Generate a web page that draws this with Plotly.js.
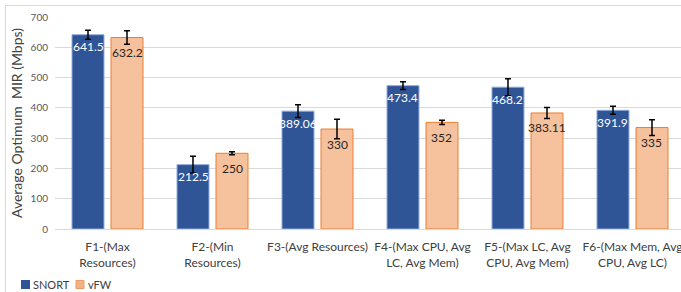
<!DOCTYPE html>
<html><head><meta charset="utf-8">
<script src="https://cdn.plot.ly/plotly-3.0.1.min.js"></script>
<style>
html,body{margin:0;padding:0;background:#fff;overflow:hidden;}
#frame{position:absolute;left:5px;top:5px;width:700px;height:300px;border-left:1px solid #d9d9d9;border-top:1px solid #d9d9d9;pointer-events:none;z-index:5;}
#chart{width:681px;height:292px;}
</style></head>
<body>
<div id="frame"></div>
<div id="chart"></div>
<script>
const categories = ["F1-(Max<br>Resources)", "F2-(Min<br>Resources)", "F3-(Avg Resources)", "F4-(Max CPU, Avg<br>LC, Avg Mem)", "F5-(Max LC, Avg<br>CPU, Avg Mem)", "F6-(Max Mem, Avg<br>CPU, Avg LC)"];
const seriesNames = ["SNORT", "vFW"];
const snortValues = [641.5, 212.5, 389.06, 473.4, 468.2, 391.9];
const snortLabels = ["641.5", "212.5", "389.06", "473.4", "468.2", "391.9"];
const snortErrors = [15, 28, 21, 13, 28, 13];
const vfwValues = [632.2, 250, 330, 352, 383.11, 335];
const vfwLabels = ["632.2", "250", "330", "352", "383.11", "335"];
const vfwErrors = [22, 5, 32, 7, 18, 26];

const font = "Lato, 'Open Sans', sans-serif";
const snortColor = "#2F5597", vfwColor = "#F8CBAD", vfwEdge = "#ED7D31";

const traces = [
  {
    type: "bar", name: seriesNames[0], x: categories, y: snortValues,
    marker: {color: snortColor, line: {color: "#8FAADC", width: 1}},
    error_y: {type: "data", array: snortErrors, visible: true, color: "#000000", thickness: 1.5, width: 3},
    hoverinfo: "none", showlegend: false
  },
  {
    type: "bar", name: seriesNames[1], x: categories, y: vfwValues,
    marker: {color: vfwColor, line: {color: vfwEdge, width: 1},
             pattern: {shape: ".", fgcolor: "#F4B183", bgcolor: vfwColor, size: 2, solidity: 0.4}},
    error_y: {type: "data", array: vfwErrors, visible: true, color: "#000000", thickness: 1.5, width: 3},
    hoverinfo: "none", showlegend: false
  }
];

// custom legend (paper coords: x0 at 55px, width 626px; y0 at 229px, height 212px)
const px = v => (v - 55) / 626;
const py = v => (229 - v) / 212;
const shapes = [
  {type: "rect", xref: "paper", yref: "paper", x0: px(21), x1: px(30), y0: py(289), y1: py(280),
   fillcolor: snortColor, line: {width: 0}},
  {type: "rect", xref: "paper", yref: "paper", x0: px(76), x1: px(84), y0: py(288.5), y1: py(280.5),
   fillcolor: "#F4B183", line: {color: "#EE9A62", width: 1}}
];
const annotations = [
  {xref: "paper", yref: "paper", x: px(31), y: py(284.5), xanchor: "left", yanchor: "middle",
   text: seriesNames[0], showarrow: false, font: {family: font, size: 11, color: "#404040"}},
  {xref: "paper", yref: "paper", x: px(86), y: py(284.5), xanchor: "left", yanchor: "middle",
   text: seriesNames[1], showarrow: false, font: {family: font, size: 11, color: "#404040"}}
];
// data labels inside the top of each bar
categories.forEach((c, i) => {
  annotations.push({x: c, y: snortValues[i], xref: "x", yref: "y", text: snortLabels[i], showarrow: false,
    xshift: -19.5, yshift: -12, yanchor: "middle", xanchor: "center",
    font: {family: font, size: 12, color: "#ffffff"}});
  annotations.push({x: c, y: vfwValues[i], xref: "x", yref: "y", text: vfwLabels[i], showarrow: false,
    xshift: 19.5, yshift: -15, yanchor: "middle", xanchor: "center",
    font: {family: font, size: 12, color: "#262626"}});
});

const layout = {
  width: 681, height: 292,
  margin: {l: 55, r: 0, t: 17, b: 63, pad: 0},
  paper_bgcolor: "#ffffff", plot_bgcolor: "#ffffff",
  font: {family: font, color: "#404040"},
  barmode: "group", bargap: 0.257, bargroupgap: 0.18,
  showlegend: false,
  shapes: shapes, annotations: annotations,
  xaxis: {
    range: [-0.5, 5.462], type: "category", tickangle: 0,
    tickfont: {family: font, size: 12, color: "#404040"},
    showgrid: false, showline: true, linecolor: "#d9d9d9", linewidth: 1,
    ticks: "", ticklen: 0, automargin: false, ticklabelstandoff: 7
  },
  yaxis: {
    range: [0, 700], dtick: 100, tick0: 0,
    tickfont: {family: font, size: 10, color: "#595959"},
    gridcolor: "#d9d9d9", gridwidth: 1, zeroline: false,
    showline: false, ticks: "", automargin: false, ticklabelstandoff: 6,
    title: {text: "Average Optimum  MIR (Mbps)", font: {family: font, size: 14, color: "#404040"}, standoff: 4}
  }
};

Plotly.newPlot("chart", traces, layout, {staticPlot: true, displayModeBar: false});
</script>
</body></html>
